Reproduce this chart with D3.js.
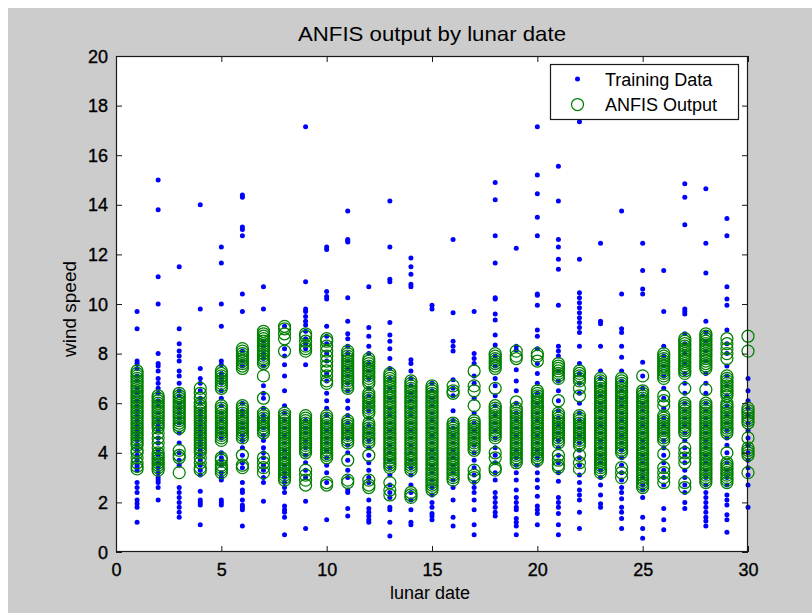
<!DOCTYPE html>
<html>
<head>
<meta charset="utf-8">
<script src="https://cdn.jsdelivr.net/npm/d3@7/dist/d3.min.js"></script>
<style>
  html, body { margin: 0; padding: 0; background: #ffffff; }
  svg { display: block; }
  text { font-family: "Liberation Sans", Arial, sans-serif; fill: #000; }
</style>
</head>
<body>
<svg id="chart" width="812" height="613"></svg>
<script>
// Lunar dates on the x axis
const lunarDates = [1, 2, 3, 4, 5, 6, 7, 8, 9, 10, 11, 12, 13, 14, 15,
                    16, 17, 18, 19, 20, 21, 22, 23, 24, 25, 26, 27, 28, 29, 30];

// Observed wind speed for each lunar date (one list per date)
const trainingData = [
  [9.7, 9.0, 7.7, 7.6, 7.4, 7.1, 6.9, 6.6, 6.4, 6.1, 5.9, 5.7, 5.5, 5.3, 5.1, 4.9, 4.7, 4.5, 4.3, 4.1, 3.9, 3.7, 3.5, 3.4, 3.3, 2.8, 2.6, 2.4, 2.1, 1.95, 1.8, 1.2],
  [15.0, 13.8, 11.1, 10.0, 8.0, 7.6, 7.5, 7.3, 7.0, 6.8, 6.6, 6.4, 6.1, 5.9, 5.6, 5.3, 5.1, 4.9, 4.6, 4.4, 4.1, 3.9, 3.6, 3.4, 3.2, 3.0, 2.9, 2.8, 2.6, 2.1],
  [11.5, 9.0, 8.4, 8.1, 7.9, 7.7, 7.3, 7.1, 6.8, 6.5, 6.3, 6.0, 5.8, 5.6, 5.4, 5.2, 4.8, 4.4, 4.0, 3.7, 3.5, 2.6, 2.4, 2.2, 2.0, 1.8, 1.6, 1.4],
  [14.0, 9.8, 7.4, 7.0, 6.8, 6.5, 6.2, 6.0, 5.7, 5.5, 5.3, 5.1, 4.9, 4.7, 4.5, 4.3, 4.1, 3.9, 3.7, 3.5, 3.3, 3.1, 2.45, 2.1, 2.0, 1.9, 1.1],
  [12.3, 11.65, 10.0, 9.1, 7.7, 7.55, 7.2, 7.0, 6.8, 6.5, 6.2, 5.9, 5.6, 5.3, 5.0, 4.8, 4.6, 4.0, 3.8, 3.7, 3.5, 3.2, 3.0, 2.9, 2.1, 2.0, 1.9],
  [14.4, 14.3, 13.1, 13.0, 12.75, 10.4, 9.7, 8.1, 7.7, 7.5, 6.0, 5.7, 5.5, 5.2, 5.0, 4.7, 4.5, 4.2, 3.9, 3.6, 3.4, 2.8, 2.5, 2.4, 2.1, 1.9, 1.8, 1.7, 1.05],
  [10.7, 9.8, 8.5, 8.3, 8.0, 7.8, 7.5, 6.7, 6.4, 6.2, 5.8, 5.5, 5.3, 5.0, 4.7, 4.5, 4.2, 4.0, 3.8, 3.5, 3.3, 3.0, 2.8, 2.05],
  [9.1, 8.2, 7.9, 7.55, 7.1, 6.5, 5.9, 5.6, 5.3, 5.0, 4.7, 4.4, 4.1, 3.8, 3.5, 3.2, 3.0, 2.8, 2.6, 2.4, 1.85, 1.7, 1.6, 1.4, 0.7],
  [17.15, 10.9, 9.8, 9.7, 9.5, 9.3, 9.15, 8.9, 8.6, 8.4, 8.2, 7.55, 5.3, 5.0, 4.8, 4.5, 4.2, 3.9, 3.6, 3.3, 3.0, 2.05, 0.95],
  [12.3, 12.2, 10.5, 10.3, 10.2, 9.1, 8.7, 8.4, 8.0, 7.7, 7.2, 6.9, 6.4, 6.1, 5.8, 5.5, 5.2, 4.9, 4.6, 4.4, 4.1, 3.8, 3.5, 3.2, 2.8, 1.3],
  [13.75, 12.6, 12.55, 12.5, 10.25, 9.3, 8.8, 8.6, 8.3, 8.0, 7.7, 7.4, 7.1, 6.8, 6.5, 6.1, 5.8, 5.5, 5.2, 4.9, 4.6, 4.3, 4.0, 3.7, 3.3, 3.0, 2.5, 2.4, 1.75, 1.45],
  [10.7, 9.05, 8.7, 8.3, 8.0, 7.6, 7.3, 7.0, 6.6, 6.3, 6.0, 5.7, 5.4, 5.1, 4.8, 4.5, 4.2, 3.9, 3.6, 3.3, 3.0, 2.8, 2.1, 1.75, 1.6, 1.45, 1.3, 1.2],
  [14.15, 12.3, 11.0, 10.9, 9.25, 8.75, 8.5, 8.2, 7.8, 7.4, 7.0, 6.6, 6.2, 5.8, 5.5, 5.2, 4.9, 4.6, 4.3, 4.0, 3.7, 3.4, 3.1, 2.7, 2.4, 2.2, 1.8, 1.7, 1.2, 0.65],
  [11.85, 11.5, 11.2, 10.8, 10.7, 7.75, 7.6, 7.3, 7.0, 6.7, 6.4, 6.1, 5.8, 5.5, 5.2, 4.9, 4.6, 4.3, 4.0, 3.7, 3.4, 3.1, 2.7, 2.4, 2.1, 1.7, 1.2, 1.1],
  [9.95, 9.8, 6.8, 6.5, 6.2, 5.9, 5.6, 5.3, 5.0, 4.7, 4.4, 4.1, 3.8, 3.5, 3.2, 2.9, 2.6, 2.3, 2.0, 1.8, 1.55, 1.45, 1.3],
  [12.6, 9.65, 8.5, 8.3, 8.1, 6.95, 6.6, 6.3, 5.7, 5.3, 5.0, 4.7, 4.4, 4.1, 3.8, 3.5, 3.2, 2.9, 2.6, 2.1, 1.4, 1.05],
  [9.7, 8.0, 7.8, 7.6, 7.1, 6.8, 6.2, 5.6, 5.2, 4.9, 4.6, 4.3, 4.0, 3.7, 3.4, 3.1, 2.8, 2.6, 2.4, 2.1, 1.7, 1.1, 0.7],
  [14.9, 14.2, 12.75, 11.65, 10.25, 10.2, 9.6, 9.35, 8.75, 8.35, 7.9, 7.5, 7.0, 6.7, 6.3, 5.9, 5.5, 5.2, 4.9, 4.6, 4.2, 3.9, 3.6, 3.2, 2.9, 2.4, 2.2, 2.0, 1.8, 1.6, 1.45],
  [12.25, 8.3, 8.15, 7.35, 6.9, 6.5, 6.0, 5.6, 5.3, 5.0, 4.7, 4.4, 4.1, 3.8, 3.5, 3.2, 2.9, 2.5, 2.2, 2.0, 1.8, 1.7, 1.35, 1.2, 1.05, 0.7],
  [17.15, 15.2, 14.45, 13.5, 12.75, 10.4, 10.35, 9.95, 8.95, 8.7, 8.2, 7.6, 7.2, 6.8, 6.4, 6.0, 5.6, 5.3, 5.0, 4.7, 4.4, 4.1, 3.8, 3.5, 3.2, 2.9, 2.6, 2.25, 1.85, 1.7, 1.55, 1.1],
  [15.55, 14.15, 12.6, 12.3, 11.8, 11.4, 9.95, 8.3, 8.1, 7.9, 7.3, 6.9, 6.5, 6.1, 5.7, 5.4, 5.1, 4.8, 4.5, 4.2, 3.9, 3.6, 3.2, 2.85, 2.2, 2.0, 1.8, 1.55, 1.1, 0.7],
  [17.35, 11.8, 10.45, 10.25, 10.05, 9.85, 9.65, 9.45, 9.25, 9.05, 8.85, 8.3, 7.6, 7.2, 6.8, 6.4, 6.0, 5.6, 5.3, 5.0, 4.7, 4.4, 4.1, 3.8, 3.5, 3.1, 2.8, 2.5, 2.3, 2.1, 1.6, 0.95],
  [12.45, 9.3, 9.2, 8.3, 7.3, 7.0, 6.7, 6.3, 6.0, 5.7, 5.4, 5.1, 4.8, 4.5, 4.2, 3.9, 3.6, 3.3, 3.0, 2.7, 2.3, 1.95, 1.8],
  [13.75, 10.4, 9.0, 8.85, 8.3, 7.85, 7.3, 6.9, 6.5, 6.2, 5.9, 5.6, 5.3, 5.0, 4.7, 4.4, 4.1, 3.8, 3.5, 3.2, 2.9, 2.6, 2.4, 2.15, 1.8, 1.6, 1.35, 0.95],
  [12.45, 11.35, 10.6, 10.4, 7.65, 7.1, 6.6, 6.3, 6.0, 5.7, 5.4, 5.1, 4.8, 4.5, 4.2, 3.9, 3.6, 3.3, 3.0, 2.7, 2.5, 2.2, 1.4, 0.95, 0.55],
  [11.35, 9.7, 8.3, 7.9, 7.5, 7.1, 6.6, 6.2, 5.8, 5.4, 5.1, 4.8, 4.5, 4.2, 3.9, 3.6, 3.3, 3.0, 2.7, 1.75, 1.3, 0.9],
  [14.85, 14.3, 13.2, 9.8, 9.7, 9.6, 8.8, 8.4, 8.0, 7.6, 7.2, 6.8, 6.4, 6.0, 5.7, 5.4, 5.1, 4.8, 4.5, 4.2, 3.9, 3.6, 3.3, 3.0, 2.7, 2.4, 2.0, 1.75],
  [14.65, 12.45, 11.25, 9.3, 8.85, 8.5, 8.1, 7.7, 7.2, 6.8, 6.4, 6.0, 5.7, 5.4, 5.1, 4.8, 4.5, 4.2, 3.9, 3.6, 3.3, 3.0, 2.7, 2.4, 2.2, 2.0, 1.8, 1.6, 1.4, 1.25, 1.05],
  [13.45, 12.75, 10.7, 10.2, 9.95, 8.95, 8.4, 8.0, 7.5, 7.1, 6.7, 6.3, 5.9, 5.5, 5.2, 4.9, 4.6, 4.3, 4.0, 3.6, 3.3, 3.0, 2.7, 2.3, 2.1, 1.9, 1.5, 1.3, 0.8],
  [7.0, 6.5, 6.1, 5.8, 5.5, 5.2, 4.9, 4.6, 4.3, 4.0, 3.7, 3.4, 3.1, 2.7, 1.8]
];

// ANFIS model output for each lunar date (one list per date)
const anfisOutput = [
  [7.3, 7.2, 7.1, 7.0, 6.9, 6.8, 6.7, 6.6, 6.5, 6.4, 6.3, 6.2, 6.1, 6.0, 5.9, 5.8, 5.7, 5.6, 5.5, 5.4, 5.3, 5.2, 5.1, 5.0, 4.9, 4.8, 4.7, 4.6, 4.5, 4.4, 4.3, 4.1, 4.0, 3.8, 3.6, 3.45, 3.35],
  [6.3, 6.2, 6.1, 6.0, 5.9, 5.8, 5.7, 5.6, 5.5, 5.4, 5.3, 5.2, 5.1, 5.0, 4.8, 4.6, 4.4, 4.2, 4.0, 3.9, 3.8, 3.7, 3.6, 3.5, 3.4, 3.3],
  [6.4, 6.3, 6.2, 6.1, 6.0, 5.9, 5.8, 5.7, 5.6, 5.5, 5.4, 5.3, 5.2, 5.1, 5.0, 4.1, 3.9, 3.8, 3.2],
  [6.6, 6.4, 6.2, 6.0, 5.9, 5.8, 5.7, 5.6, 5.5, 5.4, 5.3, 5.2, 5.1, 5.0, 4.9, 4.8, 4.7, 4.6, 4.5, 4.4, 4.3, 4.2, 4.1, 4.0, 3.8, 3.6, 3.4, 3.3],
  [7.3, 7.2, 7.1, 7.0, 6.9, 6.8, 6.7, 6.6, 5.9, 5.8, 5.7, 5.6, 5.5, 5.4, 5.3, 5.2, 5.1, 5.0, 4.9, 4.8, 4.7, 4.6, 4.5, 3.8, 3.7, 3.5, 3.4, 3.3, 3.2],
  [8.2, 8.1, 8.0, 7.9, 7.8, 7.7, 7.6, 7.5, 7.4, 5.9, 5.8, 5.7, 5.6, 5.5, 5.4, 5.3, 5.2, 5.1, 5.0, 4.9, 4.8, 4.7, 4.6, 3.9, 3.5, 3.4],
  [8.9, 8.8, 8.7, 8.6, 8.5, 8.4, 8.3, 8.2, 8.1, 8.0, 7.9, 7.8, 7.7, 7.6, 7.1, 6.2, 5.6, 5.5, 5.4, 5.3, 5.2, 5.1, 5.0, 4.9, 4.8, 3.8, 3.6, 3.4, 3.2],
  [9.1, 9.0, 8.8, 8.6, 8.1, 5.6, 5.5, 5.4, 5.3, 5.2, 5.1, 5.0, 4.9, 4.8, 4.7, 4.6, 4.5, 4.4, 4.3, 4.2, 4.1, 4.0, 3.9, 3.8, 3.7, 3.6, 3.5, 3.4, 3.3, 3.2, 3.1, 3.0, 2.9],
  [8.8, 8.7, 8.5, 8.3, 8.2, 8.1, 5.5, 5.4, 5.3, 5.2, 5.1, 5.0, 4.9, 4.8, 4.7, 4.6, 4.5, 4.4, 4.3, 4.2, 4.1, 4.0, 3.3, 3.1, 2.9, 2.7],
  [8.6, 8.5, 8.3, 8.1, 7.9, 7.7, 7.5, 7.3, 7.1, 6.9, 6.8, 5.5, 5.4, 5.3, 5.2, 5.1, 5.0, 4.9, 4.8, 4.7, 4.6, 4.5, 4.4, 4.3, 4.2, 4.1, 4.0, 3.9, 3.8, 2.8, 2.7],
  [8.1, 8.0, 7.9, 7.8, 7.7, 7.6, 7.5, 7.4, 7.3, 7.2, 7.1, 7.0, 6.9, 6.8, 6.7, 6.6, 5.3, 5.2, 5.1, 5.0, 4.9, 4.8, 4.7, 4.6, 4.5, 4.4, 3.7, 2.9, 2.8],
  [7.8, 7.7, 7.6, 7.5, 7.4, 7.3, 7.2, 7.1, 7.0, 6.9, 6.8, 6.4, 6.3, 6.2, 6.1, 6.0, 5.9, 5.8, 5.7, 5.6, 5.2, 5.1, 5.0, 4.9, 4.8, 4.7, 4.6, 4.5, 4.4, 3.9, 2.9, 2.7, 2.6],
  [7.2, 7.1, 7.0, 6.9, 6.8, 6.7, 6.6, 6.5, 6.4, 6.3, 6.2, 6.1, 6.0, 5.9, 5.8, 5.7, 5.6, 5.5, 5.4, 5.3, 5.2, 5.1, 5.0, 4.9, 4.8, 4.7, 4.6, 4.5, 4.4, 4.3, 4.2, 4.1, 4.0, 3.9, 3.8, 3.7, 3.6, 3.5, 3.4, 2.8, 2.5, 2.3],
  [6.9, 6.8, 6.7, 6.6, 6.5, 6.4, 6.3, 6.2, 6.1, 6.0, 5.9, 5.8, 5.7, 5.6, 5.5, 5.4, 5.3, 5.2, 5.1, 5.0, 4.9, 4.8, 4.7, 4.6, 4.5, 4.4, 4.3, 4.2, 4.1, 4.0, 3.9, 3.8, 3.7, 3.6, 3.5, 3.4, 3.3, 2.4, 2.3, 2.2],
  [6.7, 6.6, 6.5, 6.4, 6.3, 6.2, 6.1, 6.0, 5.9, 5.8, 5.7, 5.6, 5.5, 5.4, 5.3, 5.2, 5.1, 5.0, 4.9, 4.8, 4.7, 4.6, 4.5, 4.4, 4.3, 4.2, 4.1, 4.0, 3.9, 3.8, 3.7, 3.6, 3.5, 3.4, 3.3, 3.2, 3.1, 3.0, 2.9, 2.8, 2.7, 2.6, 2.5],
  [6.7, 6.5, 6.4, 5.2, 5.1, 5.0, 4.9, 4.8, 4.7, 4.6, 4.5, 4.4, 4.3, 4.2, 4.1, 4.0, 3.9, 3.8, 3.7, 3.6, 3.5, 3.4, 3.3, 3.2, 3.1, 3.0, 2.9],
  [7.3, 6.7, 6.5, 5.9, 5.3, 5.2, 5.1, 5.0, 4.9, 4.8, 4.7, 4.6, 4.5, 4.4, 4.3, 4.2, 4.1, 3.3, 3.1, 3.0],
  [8.0, 7.9, 7.8, 7.7, 7.6, 7.5, 7.4, 6.6, 5.9, 5.8, 5.7, 5.6, 5.5, 5.4, 5.3, 5.2, 5.1, 5.0, 4.9, 4.8, 4.7, 4.6, 4.0, 3.8, 3.4, 3.3],
  [8.1, 7.9, 7.8, 6.05, 5.8, 5.7, 5.6, 5.5, 5.4, 5.3, 5.2, 5.1, 5.0, 4.9, 4.8, 4.7, 4.6, 4.5, 4.4, 4.3, 4.2, 4.1, 4.0, 3.9, 3.8, 3.7, 3.6],
  [8.0, 7.9, 7.7, 6.5, 6.4, 6.3, 6.2, 6.1, 6.0, 5.9, 5.8, 5.7, 5.6, 5.5, 5.4, 5.3, 5.2, 5.1, 5.0, 4.9, 4.8, 4.7, 4.6, 4.5, 4.4, 4.3, 4.2, 4.1, 4.0, 3.9, 3.8, 3.7],
  [7.6, 7.5, 7.4, 7.3, 7.2, 7.1, 7.0, 6.1, 5.6, 5.5, 5.4, 5.3, 5.2, 5.1, 5.0, 4.9, 4.8, 4.7, 4.6, 4.5, 4.4, 3.9, 3.7, 3.5, 3.4],
  [7.3, 7.2, 7.1, 7.0, 6.9, 6.6, 6.3, 5.5, 5.4, 5.3, 5.2, 5.1, 5.0, 4.9, 4.8, 4.7, 4.6, 4.5, 4.4, 4.3, 3.9, 3.6, 3.35],
  [7.0, 6.9, 6.8, 6.7, 6.6, 6.5, 6.4, 6.3, 6.2, 6.1, 6.0, 5.9, 5.8, 5.7, 5.6, 5.5, 5.4, 5.3, 5.2, 5.1, 5.0, 4.9, 4.8, 4.7, 4.6, 4.5, 4.4, 4.3, 4.2, 4.1, 4.0, 3.9, 3.8, 3.7, 3.6, 3.5, 3.4, 3.3, 3.2],
  [7.0, 6.9, 6.8, 6.7, 6.6, 6.5, 6.4, 6.3, 6.2, 6.1, 6.0, 5.9, 5.8, 5.7, 5.6, 5.5, 5.4, 5.3, 5.2, 5.1, 5.0, 4.9, 4.8, 4.7, 4.6, 4.5, 4.4, 4.3, 4.2, 4.1, 4.0, 3.4, 3.2, 3.0],
  [7.1, 6.5, 6.4, 6.3, 6.2, 6.1, 6.0, 5.9, 5.8, 5.7, 5.6, 5.5, 5.4, 5.3, 5.2, 5.1, 5.0, 4.9, 4.8, 4.7, 4.6, 4.5, 4.4, 4.3, 4.2, 4.1, 4.0, 3.9, 3.8, 3.7, 3.6, 3.5, 3.4, 3.3, 3.2, 3.1, 3.0, 2.9, 2.8, 2.7, 2.6],
  [8.0, 7.9, 7.8, 7.7, 7.6, 7.5, 7.4, 7.3, 7.2, 7.1, 7.0, 6.3, 6.1, 5.9, 5.5, 5.4, 5.3, 5.2, 5.1, 5.0, 4.9, 4.8, 4.7, 4.6, 4.5, 3.95, 3.4, 3.2, 3.0, 2.8],
  [8.6, 8.5, 8.4, 8.3, 8.2, 8.1, 8.0, 7.9, 7.8, 7.7, 7.6, 7.5, 7.4, 7.3, 7.2, 6.6, 6.0, 5.9, 5.8, 5.7, 5.6, 5.5, 5.4, 5.3, 5.2, 5.1, 5.0, 4.9, 4.8, 4.2, 4.0, 3.8, 3.6, 2.8, 2.6],
  [8.8, 8.7, 8.6, 8.5, 8.4, 8.3, 8.2, 8.1, 8.0, 7.9, 7.8, 7.7, 7.6, 7.5, 7.4, 6.55, 6.0, 5.9, 5.8, 5.7, 5.6, 5.5, 5.4, 5.3, 5.2, 5.1, 5.0, 4.9, 4.8, 4.7, 4.6, 4.5, 4.4, 4.3, 4.2, 4.1, 4.0, 3.9, 3.8, 3.7, 3.6, 3.5, 3.4, 3.3, 3.2, 3.1, 3.0, 2.9, 2.8],
  [8.6, 8.4, 8.2, 8.0, 7.8, 7.1, 7.0, 6.9, 6.8, 6.7, 6.6, 6.5, 6.4, 6.3, 6.0, 5.9, 5.8, 5.7, 5.6, 5.5, 5.4, 5.3, 5.2, 5.1, 5.0, 4.9, 4.8, 4.0, 3.6, 3.5, 3.4, 3.3, 3.2, 3.1, 3.0, 2.9, 2.8],
  [8.7, 8.1, 5.8, 5.7, 5.6, 5.5, 5.4, 5.3, 5.2, 4.6, 4.2, 4.1, 4.0, 3.9, 3.2]
];

const xTicks = [0, 5, 10, 15, 20, 25, 30];
const yTicks = [0, 2, 4, 6, 8, 10, 12, 14, 16, 18, 20];
const chartTitle = "ANFIS output by lunar date";
const xLabel = "lunar date";
const yLabel = "wind speed";
const legendLabels = ["Training Data", "ANFIS Output"];

const W = 812, H = 613;
const plot = { left: 116, top: 56, right: 748, bottom: 552 };

const svg = d3.select("#chart");

// Figure background with a thin white margin
svg.append("rect").attr("x", 0).attr("y", 0).attr("width", W).attr("height", H).attr("fill", "#ffffff");
svg.append("rect").attr("x", 8).attr("y", 8).attr("width", W - 8).attr("height", H - 8).attr("fill", "#cccccc");

const x = d3.scaleLinear().domain([0, 30]).range([plot.left, plot.right]);
const y = d3.scaleLinear().domain([0, 20]).range([plot.bottom, plot.top]);

// Axes area
svg.append("rect")
  .attr("x", plot.left).attr("y", plot.top)
  .attr("width", plot.right - plot.left).attr("height", plot.bottom - plot.top)
  .attr("fill", "#ffffff");

// Flatten the per-date lists into points
const trainPts = [], anfisPts = [];
lunarDates.forEach((d, i) => {
  trainingData[i].forEach(v => trainPts.push({ d, v }));
  anfisOutput[i].forEach(v => anfisPts.push({ d, v }));
});

const marks = svg.append("g");
marks.selectAll("circle.train").data(trainPts).join("circle")
  .attr("class", "train")
  .attr("cx", p => x(p.d)).attr("cy", p => y(p.v))
  .attr("r", 2.5).attr("fill", "#0000ff");

marks.selectAll("circle.anfis").data(anfisPts).join("circle")
  .attr("class", "anfis")
  .attr("cx", p => x(p.d)).attr("cy", p => y(p.v))
  .attr("r", 6).attr("fill", "none")
  .attr("stroke", "#008000").attr("stroke-width", 1.25);

// Axes with inward ticks on all four sides
const tickLen = 6;
const fontSize = 18;

const gBottom = svg.append("g").attr("transform", `translate(0,${plot.bottom})`)
  .call(d3.axisBottom(x).tickValues(xTicks).tickSizeInner(-tickLen).tickSizeOuter(0).tickPadding(11).tickFormat(d3.format("d")));
const gTop = svg.append("g").attr("transform", `translate(0,${plot.top})`)
  .call(d3.axisTop(x).tickValues(xTicks).tickSizeInner(-tickLen).tickSizeOuter(0).tickFormat(""));
const gLeft = svg.append("g").attr("transform", `translate(${plot.left},0)`)
  .call(d3.axisLeft(y).tickValues(yTicks).tickSizeInner(-tickLen).tickSizeOuter(0).tickPadding(8).tickFormat(d3.format("d")));
const gRight = svg.append("g").attr("transform", `translate(${plot.right},0)`)
  .call(d3.axisRight(y).tickValues(yTicks).tickSizeInner(-tickLen).tickSizeOuter(0).tickFormat(""));

[gBottom, gTop, gLeft, gRight].forEach(g => {
  g.select(".domain").remove();
  g.selectAll(".tick line").attr("stroke", "#1a1a1a").attr("stroke-width", 1);
  g.selectAll(".tick text")
    .attr("font-family", "'Liberation Sans', Arial, sans-serif")
    .attr("font-size", fontSize).attr("fill", "#000")
    .attr("stroke", "#000").attr("stroke-width", 0.35);
});
gLeft.selectAll(".tick text").attr("dy", "0.34em");

// Axes box
svg.append("rect")
  .attr("x", plot.left + 0.5).attr("y", plot.top + 0.5)
  .attr("width", plot.right - plot.left - 1).attr("height", plot.bottom - plot.top - 1)
  .attr("fill", "none").attr("stroke", "#1a1a1a").attr("stroke-width", 1.2);

// Title and axis labels
svg.append("text")
  .attr("x", (plot.left + plot.right) / 2).attr("y", 41)
  .attr("text-anchor", "middle").attr("font-size", 21)
  .attr("textLength", 268).attr("lengthAdjust", "spacingAndGlyphs")
  .text(chartTitle);

svg.append("text")
  .attr("x", (plot.left + plot.right) / 2 - 2).attr("y", 599)
  .attr("text-anchor", "middle").attr("font-size", 18)
  .text(xLabel);

svg.append("text")
  .attr("transform", `translate(76,${(plot.top + plot.bottom) / 2 + 5}) rotate(-90)`)
  .attr("text-anchor", "middle").attr("font-size", 19)
  .text(yLabel);

// Legend
const lg = { x: 550, y: 64, w: 188, h: 55 };
const legend = svg.append("g");
legend.append("rect")
  .attr("x", lg.x + 0.5).attr("y", lg.y + 0.5).attr("width", lg.w).attr("height", lg.h)
  .attr("fill", "#ffffff").attr("stroke", "#1a1a1a").attr("stroke-width", 1.2);
legend.append("circle").attr("cx", 577.5).attr("cy", 79).attr("r", 2.5).attr("fill", "#0000ff");
legend.append("circle").attr("cx", 577.5).attr("cy", 104.5).attr("r", 6)
  .attr("fill", "none").attr("stroke", "#008000").attr("stroke-width", 1.25);
legend.append("text").attr("x", 605).attr("y", 85.5).attr("font-size", 18).text(legendLabels[0]);
legend.append("text").attr("x", 605).attr("y", 110.5).attr("font-size", 18).text(legendLabels[1]);
</script>
</body>
</html>
